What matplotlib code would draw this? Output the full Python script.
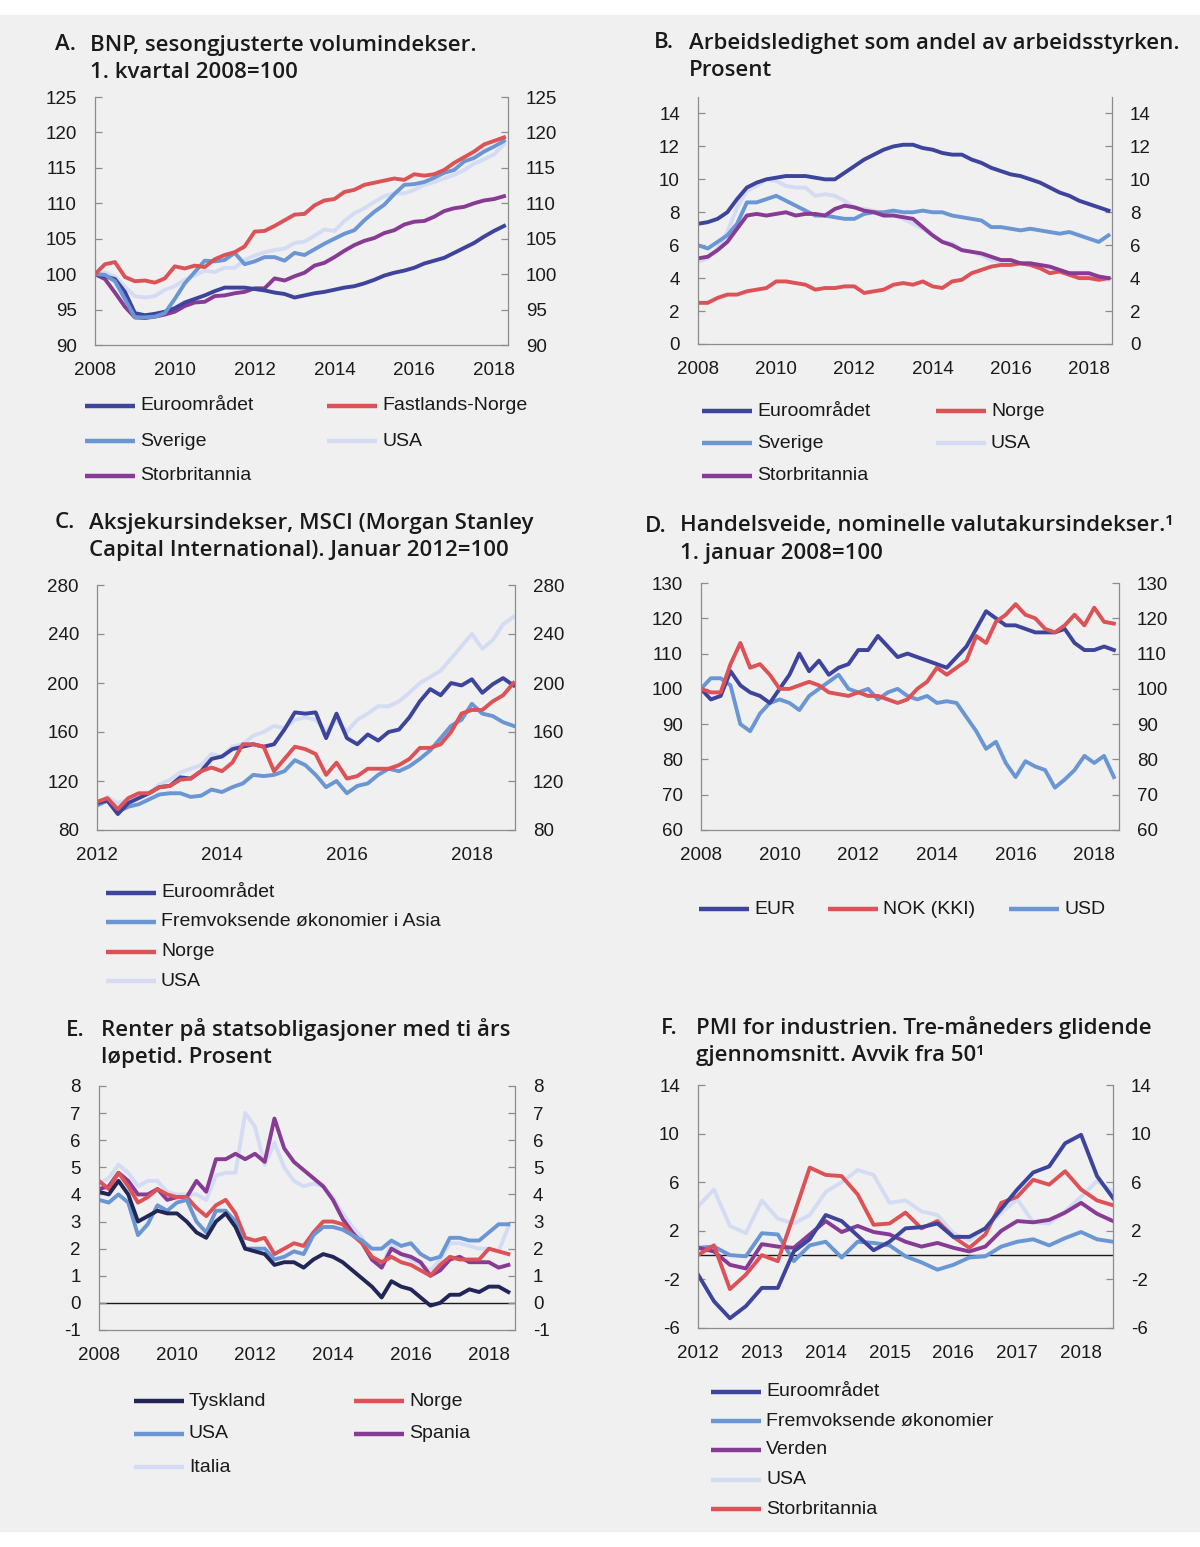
import matplotlib
matplotlib.use("Agg")
import matplotlib.pyplot as plt
import numpy as np
from matplotlib.lines import Line2D
from matplotlib.patches import Rectangle

plt.rcParams['font.family'] = ['Liberation Sans', 'DejaVu Sans']
plt.rcParams['axes.unicode_minus'] = False

W, H = 1200, 1547

# farger
EURO = '#3c449c'
RED = '#dc5257'
MID = '#6a96d3'
LIGHT = '#d3dcf3'
PURPLE = '#883b94'
NAVY = '#222656'

# --- A. BNP, kvartalstall 2008K1-2018K2 ---
a_x = 2008 + np.arange(42) / 4
a_euro = [100.0, 99.7, 99.3, 97.5, 94.5, 94.2, 94.4, 94.7, 95.2, 96.0,
          96.5, 97.0, 97.6, 98.1, 98.1, 98.1, 97.9, 97.7, 97.4, 97.2,
          96.7, 97.0, 97.3, 97.5, 97.8, 98.1, 98.3, 98.7, 99.2, 99.8,
          100.2, 100.5, 100.9, 101.5, 101.9, 102.3, 103.0, 103.7, 104.4, 105.3,
          106.1, 106.8]
a_norge = [100.0, 101.4, 101.7, 99.6, 99.0, 99.1, 98.8, 99.4, 101.1, 100.8,
           101.2, 101.0, 102.1, 102.7, 103.1, 103.9, 106.0, 106.1, 106.8, 107.6,
           108.4, 108.5, 109.7, 110.4, 110.6, 111.6, 111.9, 112.6, 112.9, 113.2,
           113.5, 113.3, 114.1, 113.9, 114.1, 114.7, 115.7, 116.5, 117.3, 118.3,
           118.8, 119.3]
a_sverige = [100.0, 99.9, 99.0, 96.5, 93.9, 93.9, 94.0, 94.5, 96.5, 98.7,
             100.3, 101.9, 101.8, 102.0, 103.0, 101.4, 101.8, 102.4, 102.4, 101.9,
             103.0, 102.7, 103.5, 104.3, 105.0, 105.7, 106.2, 107.6, 108.8, 109.8,
             111.3, 112.6, 112.7, 113.0, 113.6, 114.3, 114.7, 115.9, 116.4, 117.3,
             118.0, 118.8]
a_usa = [100.0, 100.2, 99.7, 98.2, 96.9, 96.7, 96.9, 97.8, 98.3, 99.2,
         99.8, 100.5, 100.3, 100.9, 100.9, 102.0, 102.6, 103.1, 103.4, 103.6,
         104.4, 104.6, 105.4, 106.3, 106.1, 107.5, 108.6, 109.3, 110.2, 111.0,
         111.4, 111.4, 111.9, 112.6, 113.0, 113.5, 114.0, 114.7, 115.6, 116.2,
         116.9, 118.3]
a_uk = [100.0, 99.3, 97.4, 95.4, 93.9, 93.8, 94.0, 94.3, 94.7, 95.5,
        96.0, 96.1, 96.9, 97.0, 97.3, 97.5, 98.0, 98.0, 99.4, 99.1,
        99.7, 100.2, 101.2, 101.6, 102.4, 103.3, 104.1, 104.7, 105.1, 105.8,
        106.2, 107.0, 107.4, 107.5, 108.1, 108.9, 109.3, 109.5, 110.0, 110.4,
        110.6, 111.0]

# --- B. Arbeidsledighet, prosent ---
b_x = 2008 + np.arange(43) / 4
b_euro = [7.3, 7.4, 7.6, 8.0, 8.8, 9.5, 9.8, 10.0, 10.1, 10.2,
          10.2, 10.2, 10.1, 10.0, 10.0, 10.4, 10.8, 11.2, 11.5, 11.8,
          12.0, 12.1, 12.1, 11.9, 11.8, 11.6, 11.5, 11.5, 11.2, 11.0,
          10.7, 10.5, 10.3, 10.2, 10.0, 9.8, 9.5, 9.2, 9.0, 8.7,
          8.5, 8.3, 8.1]
b_norge = [2.5, 2.5, 2.8, 3.0, 3.0, 3.2, 3.3, 3.4, 3.8, 3.8,
           3.7, 3.6, 3.3, 3.4, 3.4, 3.5, 3.5, 3.1, 3.2, 3.3,
           3.6, 3.7, 3.6, 3.8, 3.5, 3.4, 3.8, 3.9, 4.3, 4.5,
           4.7, 4.8, 4.8, 4.9, 4.8, 4.6, 4.3, 4.4, 4.2, 4.0,
           4.0, 3.9, 4.0]
b_sverige = [6.0, 5.8, 6.2, 6.6, 7.3, 8.6, 8.6, 8.8, 9.0, 8.7,
             8.4, 8.1, 7.8, 7.8, 7.7, 7.6, 7.6, 7.9, 8.0, 8.0,
             8.1, 8.0, 8.0, 8.1, 8.0, 8.0, 7.8, 7.7, 7.6, 7.5,
             7.1, 7.1, 7.0, 6.9, 7.0, 6.9, 6.8, 6.7, 6.8, 6.6,
             6.4, 6.2, 6.6]
b_usa = [5.0, 5.2, 5.8, 6.8, 8.3, 9.3, 9.6, 10.0, 9.9, 9.6,
         9.5, 9.5, 9.0, 9.1, 9.0, 8.7, 8.3, 8.2, 8.1, 7.8,
         7.9, 7.6, 7.3, 7.0, 6.6, 6.2, 6.1, 5.7, 5.6, 5.4,
         5.1, 5.0, 4.9, 4.9, 4.9, 4.7, 4.6, 4.4, 4.3, 4.1,
         4.1, 3.9, 3.9]
b_uk = [5.2, 5.3, 5.7, 6.2, 7.0, 7.8, 7.9, 7.8, 7.9, 8.0,
        7.8, 7.9, 7.9, 7.8, 8.2, 8.4, 8.3, 8.1, 8.0, 7.8,
        7.8, 7.7, 7.6, 7.1, 6.6, 6.2, 6.0, 5.7, 5.6, 5.5,
        5.3, 5.1, 5.1, 4.9, 4.9, 4.8, 4.7, 4.5, 4.3, 4.3,
        4.3, 4.1, 4.0]

# --- C. Aksjekursindekser, annenhver måned fra jan 2012 ---
c_x = 2012 + np.arange(41) / 6
c_euro = [102, 104, 93, 102, 106, 110, 115, 116, 123, 122,
          128, 138, 140, 146, 148, 150, 148, 150, 162, 176,
          175, 176, 155, 175, 155, 150, 158, 153, 160, 162,
          172, 185, 195, 190, 200, 198, 203, 192, 199, 204,
          198]
c_asia = [100, 104, 95, 99, 101, 105, 109, 110, 110, 107,
          108, 113, 111, 115, 118, 125, 124, 125, 128, 137,
          133, 125, 115, 120, 110, 116, 118, 125, 130, 128,
          132, 138, 145, 155, 165, 170, 183, 175, 173, 168,
          165]
c_norge = [103, 106, 97, 106, 110, 110, 115, 116, 121, 122,
           128, 131, 128, 135, 150, 150, 148, 128, 138, 148,
           146, 142, 125, 135, 122, 124, 130, 130, 130, 133,
           138, 147, 147, 150, 160, 175, 178, 178, 185, 190,
           200]
c_usa = [100, 107, 102, 105, 109, 110, 117, 121, 127, 130,
         133, 142, 140, 148, 150, 157, 160, 165, 163, 170,
         172, 170, 160, 170, 160, 170, 175, 181, 181, 185,
         192, 200, 205, 210, 220, 230, 240, 228, 235, 248,
         254]

# --- D. Valutakursindekser ---
d_x = 2008 + np.arange(43) / 4
d_eur = [100, 97, 98, 105, 101, 99, 98, 96, 100, 104,
         110, 105, 108, 104, 106, 107, 111, 111, 115, 112,
         109, 110, 109, 108, 107, 106, 109, 112, 117, 122,
         120, 118, 118, 117, 116, 116, 116, 117, 113, 111,
         111, 112, 111]
d_nok = [100, 99, 99, 107, 113, 106, 107, 104, 100, 100,
         101, 102, 101, 99, 98.5, 98, 99, 98, 98, 97,
         96, 97, 100, 102, 106, 104, 106, 108, 115, 113,
         119, 121, 124, 121, 120, 117, 116, 118, 121, 118,
         123, 119, 118.5]
d_usd = [100, 103, 103, 101, 90, 88, 93, 96, 97, 96,
         94, 98, 100, 102, 104, 100, 99, 100, 97, 99,
         100, 98, 97, 98, 96, 96.5, 96, 92, 88, 83,
         85, 79, 75, 79.5, 78, 77, 72, 74.3, 77, 81,
         79, 81, 75]

# --- E. Tiårsrenter ---
e_x = 2008 + np.arange(43) / 4
e_tyskland = [4.1, 4.0, 4.5, 4.0, 3.0, 3.2, 3.4, 3.3, 3.3, 3.0,
              2.6, 2.4, 3.0, 3.3, 2.8, 2.0, 1.9, 1.8, 1.4, 1.5,
              1.5, 1.3, 1.6, 1.8, 1.7, 1.5, 1.2, 0.9, 0.6, 0.2,
              0.8, 0.6, 0.5, 0.2, -0.1, 0.0, 0.3, 0.3, 0.5, 0.4,
              0.6, 0.6, 0.4]
e_norge = [4.5, 4.2, 4.8, 4.3, 3.7, 3.9, 4.2, 4.0, 3.9, 3.9,
           3.5, 3.2, 3.6, 3.8, 3.3, 2.4, 2.3, 2.4, 1.8, 2.0,
           2.2, 2.1, 2.6, 3.0, 3.0, 2.9, 2.5, 2.2, 1.7, 1.5,
           1.7, 1.5, 1.4, 1.2, 1.0, 1.4, 1.7, 1.6, 1.6, 1.6,
           2.0, 1.9, 1.8]
e_usa = [3.8, 3.7, 4.0, 3.7, 2.5, 2.9, 3.6, 3.4, 3.7, 3.8,
         3.0, 2.6, 3.4, 3.4, 3.0, 2.0, 2.0, 2.0, 1.6, 1.7,
         1.9, 1.8, 2.5, 2.8, 2.8, 2.7, 2.5, 2.3, 2.0, 2.0,
         2.3, 2.1, 2.2, 1.8, 1.6, 1.7, 2.4, 2.4, 2.3, 2.3,
         2.6, 2.9, 2.9]
e_spania = [4.2, 4.3, 4.8, 4.5, 4.0, 4.0, 4.2, 3.8, 3.9, 3.9,
            4.5, 4.1, 5.3, 5.3, 5.5, 5.3, 5.5, 5.2, 6.8, 5.7,
            5.2, 4.9, 4.6, 4.3, 3.8, 3.1, 2.6, 2.2, 1.6, 1.3,
            2.0, 1.8, 1.7, 1.5, 1.0, 1.2, 1.6, 1.7, 1.5, 1.5,
            1.5, 1.3, 1.4]
e_italia = [4.4, 4.6, 5.1, 4.8, 4.3, 4.5, 4.5, 4.1, 4.0, 4.0,
            4.0, 3.8, 4.7, 4.8, 4.8, 7.0, 6.5, 5.1, 5.9, 5.0,
            4.5, 4.3, 4.4, 4.3, 3.9, 3.3, 2.8, 2.4, 1.6, 1.3,
            2.2, 1.8, 1.6, 1.4, 1.2, 1.6, 2.2, 2.2, 2.1, 2.0,
            2.0, 1.9, 2.8]

# --- F. PMI, avvik fra 50 ---
f_x = 2012 + np.arange(27) / 4
f_euro = [-1.6, -3.8, -5.2, -4.2, -2.7, -2.7, 0.3, 1.3, 3.3, 2.8,
          1.6, 0.4, 1.1, 2.2, 2.3, 2.6, 1.5, 1.5, 2.2, 3.8,
          5.4, 6.8, 7.3, 9.2, 9.9, 6.5, 4.7]
f_em = [0.6, 0.7, 0.0, -0.1, 1.8, 1.7, -0.5, 0.8, 1.1, -0.2,
        1.1, 1.0, 0.8, -0.1, -0.6, -1.2, -0.8, -0.2, -0.1, 0.7,
        1.1, 1.3, 0.8, 1.4, 1.9, 1.3, 1.1]
f_verden = [0.6, 0.3, -0.8, -1.1, 0.9, 0.7, 0.6, 1.7, 2.8, 1.9,
            2.4, 1.9, 1.7, 1.1, 0.7, 1.0, 0.6, 0.3, 0.7, 2.0,
            2.8, 2.7, 2.9, 3.5, 4.3, 3.4, 2.8]
f_usa = [4.0, 5.4, 2.4, 1.8, 4.5, 3.0, 2.6, 3.3, 5.2, 6.0,
         7.0, 6.6, 4.3, 4.5, 3.6, 3.3, 1.8, 1.2, 2.2, 3.5,
         4.6, 2.7, 2.6, 3.6, 4.8, 6.1, 5.2]
f_uk = [0.0, 0.8, -2.8, -1.6, 0.0, -0.5, 3.3, 7.2, 6.6, 6.5,
        5.0, 2.5, 2.6, 3.5, 2.2, 2.8, 1.5, 0.6, 1.7, 4.3,
        4.8, 6.2, 5.8, 6.9, 5.4, 4.5, 4.1]


fig = plt.figure(figsize=(W / 100, H / 100), dpi=100)
fig.patch.set_facecolor('white')
fig.patches.append(Rectangle((0, 1 - 1531 / H), 1, (1531 - 15) / H,
                             transform=fig.transFigure, color='#f0f0f0', zorder=-10))


def make_ax(x0, y0, x1, y1):
    return fig.add_axes([x0 / W, 1 - y1 / H, (x1 - x0) / W, (y1 - y0) / H])


def style(ax, xlim, ylim, xticks, yticks):
    ax.set_facecolor('none')
    ax.set_xlim(xlim)
    ax.set_ylim(ylim)
    ax.set_xticks(xticks)
    ax.set_xticklabels([str(t) for t in xticks])
    ax.set_yticks(yticks)
    ax.spines['top'].set_visible(False)
    for s in ['left', 'right', 'bottom']:
        ax.spines[s].set_color('#8c8c8c')
        ax.spines[s].set_linewidth(0.9)
    ax.tick_params(axis='y', left=True, right=True, labelleft=True, labelright=True,
                   direction='in', length=5, width=0.9, color='#8c8c8c',
                   pad=13, labelsize=13.5, labelcolor='#1a1a1a')
    ax.tick_params(axis='x', length=0, pad=12, labelsize=13.5, labelcolor='#1a1a1a')


def title(letter, lines, x_letter, x_text, y1, y2):
    kw = dict(fontsize=16, family=['Open Sans', 'DejaVu Sans'], fontweight='semibold',
              color='#1a1a1a', va='center')
    fig.text(x_letter / W, 1 - y1 / H, letter, **kw)
    fig.text(x_text / W, 1 - y1 / H, lines[0], **kw)
    fig.text(x_text / W, 1 - y2 / H, lines[1], **kw)


def legend(entries):
    for label, color, x0, y in entries:
        fig.add_artist(Line2D([x0 / W, (x0 + 50) / W], [1 - y / H, 1 - y / H],
                              transform=fig.transFigure, color=color, lw=3.2,
                              solid_capstyle='butt'))
        fig.text((x0 + 55) / W, 1 - y / H, label, fontsize=14, va='center',
                 color='#1a1a1a')


LW = 2.8

# A
ax = make_ax(95, 97, 508, 345)
ax.plot(a_x, a_usa, color=LIGHT, lw=LW)
ax.plot(a_x, a_uk, color=PURPLE, lw=LW)
ax.plot(a_x, a_euro, color=EURO, lw=LW)
ax.plot(a_x, a_sverige, color=MID, lw=LW)
ax.plot(a_x, a_norge, color=RED, lw=LW)
style(ax, (2008, 2018.35), (90, 125), list(range(2008, 2019, 2)), list(range(90, 126, 5)))
title('A.', ['BNP, sesongjusterte volumindekser.', '1. kvartal 2008=100'], 55, 90, 45, 72)
legend([('Euroområdet', EURO, 85, 406), ('Fastlands-Norge', RED, 327, 406),
        ('Sverige', MID, 85, 441), ('USA', LIGHT, 327, 441),
        ('Storbritannia', PURPLE, 85, 476)])

# B
ax = make_ax(698, 97, 1112, 344)
ax.plot(b_x, b_usa, color=LIGHT, lw=LW)
ax.plot(b_x, b_norge, color=RED, lw=LW)
ax.plot(b_x, b_sverige, color=MID, lw=LW)
ax.plot(b_x, b_uk, color=PURPLE, lw=LW)
ax.plot(b_x, b_euro, color=EURO, lw=LW)
style(ax, (2008, 2018.59), (0, 15), list(range(2008, 2019, 2)), list(range(0, 15, 2)))
title('B.', ['Arbeidsledighet som andel av arbeidsstyrken.', 'Prosent'], 654, 689, 43, 70)
legend([('Euroområdet', EURO, 702, 411), ('Norge', RED, 936, 411),
        ('Sverige', MID, 702, 443), ('USA', LIGHT, 936, 443),
        ('Storbritannia', PURPLE, 702, 476)])

# C
ax = make_ax(97, 585, 515, 830)
ax.plot(c_x, c_usa, color=LIGHT, lw=LW)
ax.plot(c_x, c_asia, color=MID, lw=LW)
ax.plot(c_x, c_euro, color=EURO, lw=LW)
ax.plot(c_x, c_norge, color=RED, lw=LW)
style(ax, (2012, 2018.69), (80, 280), [2012, 2014, 2016, 2018], list(range(80, 281, 40)))
title('C.', ['Aksjekursindekser, MSCI (Morgan Stanley',
             'Capital International). Januar 2012=100'], 55, 89, 523, 550)
legend([('Euroområdet', EURO, 106, 893),
        ('Fremvoksende økonomier i Asia', MID, 106, 922),
        ('Norge', RED, 106, 952), ('USA', LIGHT, 106, 981)])

# D
ax = make_ax(701, 583, 1119, 830)
ax.plot(d_x, d_usd, color=MID, lw=LW)
ax.plot(d_x, d_eur, color=EURO, lw=LW)
ax.plot(d_x, d_nok, color=RED, lw=LW)
style(ax, (2008, 2018.63), (60, 130), list(range(2008, 2019, 2)), list(range(60, 131, 10)))
title('D.', ['Handelsveide, nominelle valutakursindekser.¹', '1. januar 2008=100'],
      645, 680, 526, 553)
legend([('EUR', EURO, 699, 909), ('NOK (KKI)', RED, 828, 909), ('USD', MID, 1009, 909)])

# E
ax = make_ax(99, 1086, 515, 1330)
ax.axhline(0, color='#1a1a1a', lw=1.0, zorder=1)
ax.plot(e_x, e_italia, color=LIGHT, lw=LW)
ax.plot(e_x, e_spania, color=PURPLE, lw=LW)
ax.plot(e_x, e_norge, color=RED, lw=LW)
ax.plot(e_x, e_usa, color=MID, lw=LW)
ax.plot(e_x, e_tyskland, color=NAVY, lw=LW)
style(ax, (2008, 2018.67), (-1, 8), list(range(2008, 2019, 2)), list(range(-1, 9)))
title('E.', ['Renter på statsobligasjoner med ti års', 'løpetid. Prosent'],
      66, 101, 1030, 1057)
legend([('Tyskland', NAVY, 134, 1401), ('Norge', RED, 354, 1401),
        ('USA', MID, 134, 1434), ('Spania', PURPLE, 354, 1434),
        ('Italia', LIGHT, 134, 1467)])

# F
ax = make_ax(698, 1085, 1113, 1328)
ax.axhline(0, color='#1a1a1a', lw=1.0, zorder=1)
ax.plot(f_x, f_usa, color=LIGHT, lw=LW)
ax.plot(f_x, f_em, color=MID, lw=LW)
ax.plot(f_x, f_verden, color=PURPLE, lw=LW)
ax.plot(f_x, f_uk, color=RED, lw=LW)
ax.plot(f_x, f_euro, color=EURO, lw=LW)
style(ax, (2012, 2018.5), (-6, 14), list(range(2012, 2019)), list(range(-6, 15, 4)))
title('F.', ['PMI for industrien. Tre-måneders glidende', 'gjennomsnitt. Avvik fra 50¹'],
      661, 696, 1028, 1055)
legend([('Euroområdet', EURO, 711, 1392),
        ('Fremvoksende økonomier', MID, 711, 1421),
        ('Verden', PURPLE, 711, 1450), ('USA', LIGHT, 711, 1480),
        ('Storbritannia', RED, 711, 1509)])

fig.savefig('out.png', dpi=100, facecolor=fig.get_facecolor())
